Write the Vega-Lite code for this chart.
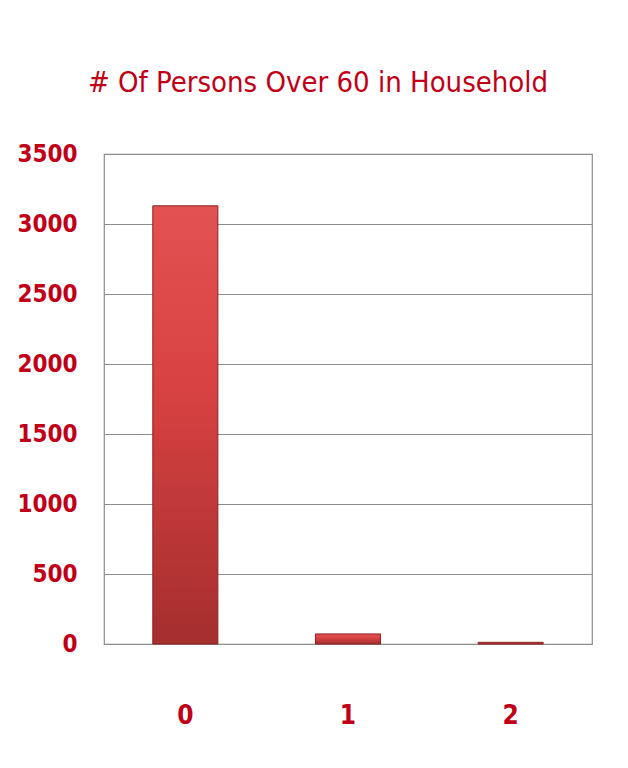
{
  "$schema": "https://vega.github.io/schema/vega-lite/v6.json",
  "width": 488,
  "height": 490,
  "autosize": {"type": "none"},
  "padding": {"left": 104, "top": 154, "right": 36, "bottom": 124},
  "background": "white",
  "title": {
    "text": "# Of Persons Over 60 in Household",
    "font": "DejaVu Sans Condensed, Roboto, sans-serif",
    "fontSize": 29,
    "fontWeight": "normal",
    "color": "#C00018",
    "anchor": "middle",
    "dx": -30,
    "offset": 44
  },
  "data": {
    "values": [
      {"persons": "0", "count": 3130},
      {"persons": "1", "count": 72},
      {"persons": "2", "count": 12}
    ]
  },
  "mark": {
    "type": "bar",
    "stroke": "#8E2222",
    "strokeWidth": 1,
    "color": {
      "gradient": "linear",
      "x1": 0, "y1": 0, "x2": 0, "y2": 1,
      "stops": [
        {"offset": 0, "color": "#E25252"},
        {"offset": 0.4, "color": "#D94242"},
        {"offset": 1, "color": "#A52E2E"}
      ]
    }
  },
  "encoding": {
    "x": {
      "field": "persons",
      "type": "nominal",
      "sort": null,
      "scale": {"paddingInner": 0.6, "paddingOuter": 0.3},
      "axis": {
        "title": null,
        "labelAngle": 0,
        "labelFont": "DejaVu Sans Condensed, Roboto, sans-serif",
        "labelFontSize": 26,
        "labelFontWeight": "bold",
        "labelColor": "#C00018",
        "labelPadding": 58,
        "ticks": false,
        "domain": false
      }
    },
    "y": {
      "field": "count",
      "type": "quantitative",
      "scale": {"domain": [0, 3500]},
      "axis": {
        "title": null,
        "format": "d",
        "values": [0, 500, 1000, 1500, 2000, 2500, 3000, 3500],
        "labelFont": "DejaVu Sans Condensed, Roboto, sans-serif",
        "labelFontSize": 24,
        "labelFontWeight": "bold",
        "labelColor": "#C00018",
        "labelPadding": 27,
        "ticks": false,
        "domain": false,
        "gridColor": "#8C8C8C",
        "gridOpacity": 1,
        "gridWidth": 1.2
      }
    }
  },
  "config": {
    "view": {"stroke": "#8C8C8C", "strokeWidth": 1.2}
  }
}
